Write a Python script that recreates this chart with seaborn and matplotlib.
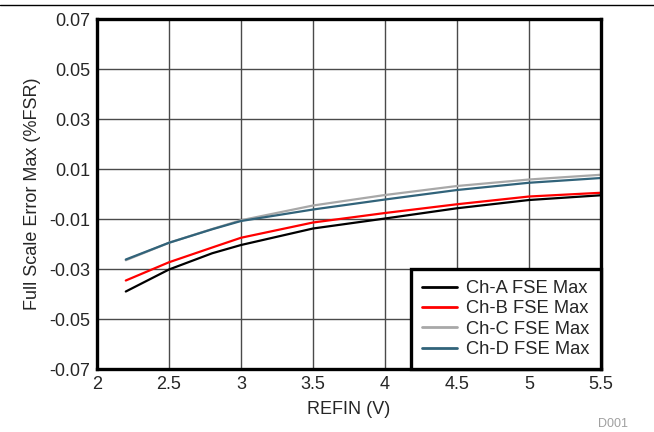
import pandas as pd
import seaborn as sns
import matplotlib.pyplot as plt

# Data
refin = [2.2, 2.5, 2.8, 3.0, 3.5, 4.0, 4.5, 5.0, 5.5]
ch_a = [-0.0390, -0.0302, -0.0237, -0.0204, -0.0138, -0.0098, -0.0057, -0.0024, -0.0005]
ch_b = [-0.0346, -0.0273, -0.0214, -0.0175, -0.0114, -0.0076, -0.0041, -0.0010, 0.0005]
ch_c = [-0.0265, -0.0195, -0.0140, -0.0105, -0.0046, -0.0004, 0.0032, 0.0058, 0.0077]
ch_d = [-0.0262, -0.0195, -0.0141, -0.0108, -0.0062, -0.0022, 0.0016, 0.0045, 0.0064]
series_names = ["Ch-A FSE Max", "Ch-B FSE Max", "Ch-C FSE Max", "Ch-D FSE Max"]
x_ticks = [2, 2.5, 3, 3.5, 4, 4.5, 5, 5.5]
y_ticks = [-0.07, -0.05, -0.03, -0.01, 0.01, 0.03, 0.05, 0.07]

# Long-form table for seaborn
frames = []
for name, vals in zip(series_names, [ch_a, ch_b, ch_c, ch_d]):
    frames.append(pd.DataFrame({"REFIN": refin, "FSE": vals, "Channel": name}))
df = pd.concat(frames, ignore_index=True)

sns.set_style("white")
plt.rcParams["font.family"] = ["Liberation Sans", "DejaVu Sans"]

fig = plt.figure(figsize=(6.54, 4.32), dpi=100)
ax = fig.add_axes([0.1483, 0.1458, 0.7706, 0.8102])

palette = {
    "Ch-A FSE Max": "#000000",
    "Ch-B FSE Max": "#ff0000",
    "Ch-C FSE Max": "#a8a8a8",
    "Ch-D FSE Max": "#31637a",
}
sns.lineplot(
    data=df,
    x="REFIN",
    y="FSE",
    hue="Channel",
    palette=palette,
    linewidth=1.6,
    ax=ax,
)

ax.set_xlim(2, 5.5)
ax.set_ylim(-0.07, 0.07)
ax.set_xticks(x_ticks)
ax.set_xticklabels([f"{t:g}" for t in x_ticks], fontsize=13)
ax.set_yticks(y_ticks)
ax.set_yticklabels([f"{t:.2f}" for t in y_ticks], fontsize=13)
ax.tick_params(length=0, pad=5)
ax.grid(True, color="#4a4a4a", linewidth=1)
ax.set_axisbelow(True)
for spine in ax.spines.values():
    spine.set_color("black")
    spine.set_linewidth(2.4)

ax.set_xlabel("REFIN (V)", fontsize=13, labelpad=6)
ax.set_ylabel("Full Scale Error Max (%FSR)", fontsize=13, labelpad=6)

leg = ax.legend(
    loc="lower right",
    fontsize=13.2,
    frameon=True,
    fancybox=False,
    borderaxespad=0,
    handlelength=1.95,
    handletextpad=0.5,
    labelspacing=0.18,
    borderpad=0.6,
)
leg.get_frame().set_edgecolor("black")
leg.get_frame().set_linewidth(2.4)
leg.get_frame().set_alpha(1)
for line in leg.get_lines():
    line.set_linewidth(2)

# Top rule and figure id
fig.add_artist(plt.Line2D([0, 1], [0.989, 0.989], color="black", linewidth=1))
fig.text(0.96, 0.005, "D001", color="#a0a0a0", fontsize=9, ha="right", va="bottom")

fig.savefig("out.png", dpi=100)
